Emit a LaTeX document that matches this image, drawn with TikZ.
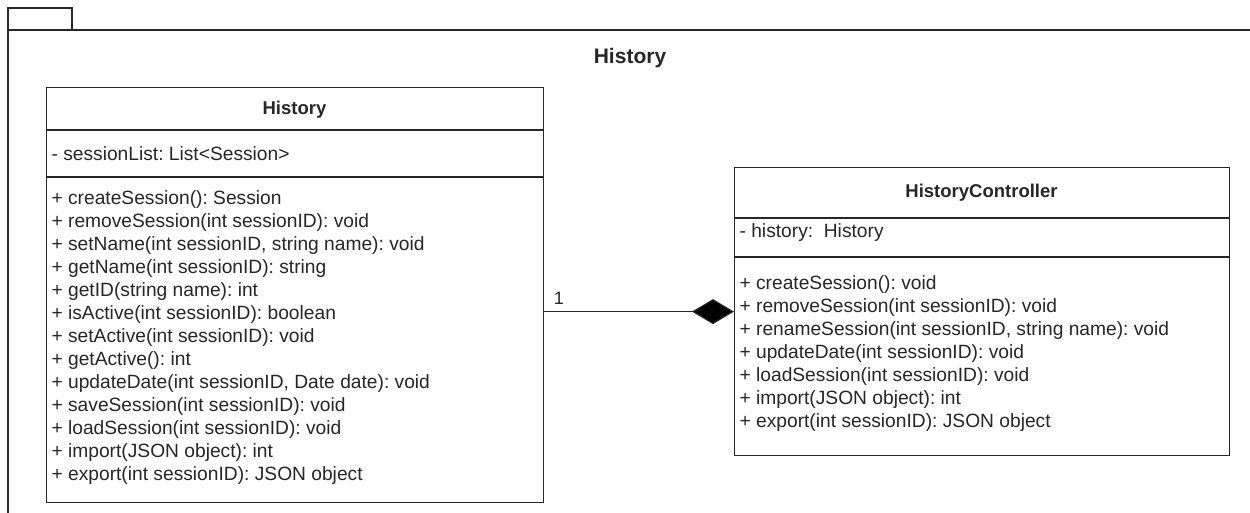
\documentclass[tikz,border=0pt]{standalone}
\usepackage{fontspec}
\setmainfont{Liberation Sans}
\usetikzlibrary{arrows.meta}
\frenchspacing

\begin{document}
\begin{tikzpicture}[x=1pt, y=-1pt, line width=1.2pt, color=black!85,
		classbox/.style={draw, rectangle, anchor=north west, inner sep=0pt},
		classname/.style={font=\fontsize{18.5}{22}\selectfont\bfseries},
		members/.style={anchor=north west, align=left, inner sep=0pt, font=\fontsize{19.2}{23}\selectfont},
		composition/.style={-{Diamond[length=42pt, width=25pt, fill=black]}}]
		\useasboundingbox (0,0) rectangle (1250,513);
		\newcommand\compartment[2]{ %% argument 1: class node, argument 2: y of the rule
			\draw (#1.west |- 0,#2) -- (#1.east |- 0,#2);
		}
		
		%% package frame with its tab
		\draw (8,30) rectangle (72,8);
		\draw (8,513) -- (8,30) -- (1250,30);
		\node[font=\fontsize{21}{24}\selectfont\bfseries] (pkgname) at (630,58) {History};
		
		%% left class
		\node[classbox, minimum width=497, minimum height=415] (hist) at (46,87) {};
		\node[classname] (histname) at (294.5,110) {History};
		\compartment{hist}{130}
		\compartment{hist}{177}
		\node[members, anchor=west] (histattr) at (51,154) {- sessionList: List<Session>};
		\node[members] (histops) at (51,190) {+ createSession(): Session\\
			+ removeSession(int sessionID): void\\
			+ setName(int sessionID, string name): void\\
			+ getName(int sessionID): string\\
			+ getID(string name): int\\
			+ isActive(int sessionID): boolean\\
			+ setActive(int sessionID): void\\
			+ getActive(): int\\
			+ updateDate(int sessionID, Date date): void\\
			+ saveSession(int sessionID): void\\
			+ loadSession(int sessionID): void\\
			+ import(JSON object): int\\
			+ export(int sessionID): JSON object};
		
		%% right class
		\node[classbox, minimum width=495, minimum height=288] (ctrl) at (734,167) {};
		\node[classname] (ctrlname) at (981.5,193) {HistoryController};
		\compartment{ctrl}{218}
		\compartment{ctrl}{257}
		\node[members, anchor=west] (ctrlattr) at (739,233) {- history:\ \ History};
		\node[members] (ctrlops) at (739,275) {+ createSession(): void\\
			+ removeSession(int sessionID): void\\
			+ renameSession(int sessionID, string name): void\\
			+ updateDate(int sessionID): void\\
			+ loadSession(int sessionID): void\\
			+ import(JSON object): int\\
			+ export(int sessionID): JSON object};
		
		%% composition
		\draw[composition] (ctrl.west -| hist.east) -- node[pos=0, anchor=south west, inner sep=0pt, xshift=9pt, yshift=7pt, font=\fontsize{18}{20}\selectfont] (mult) {1} (ctrl.west);
	\end{tikzpicture}
\end{document}
